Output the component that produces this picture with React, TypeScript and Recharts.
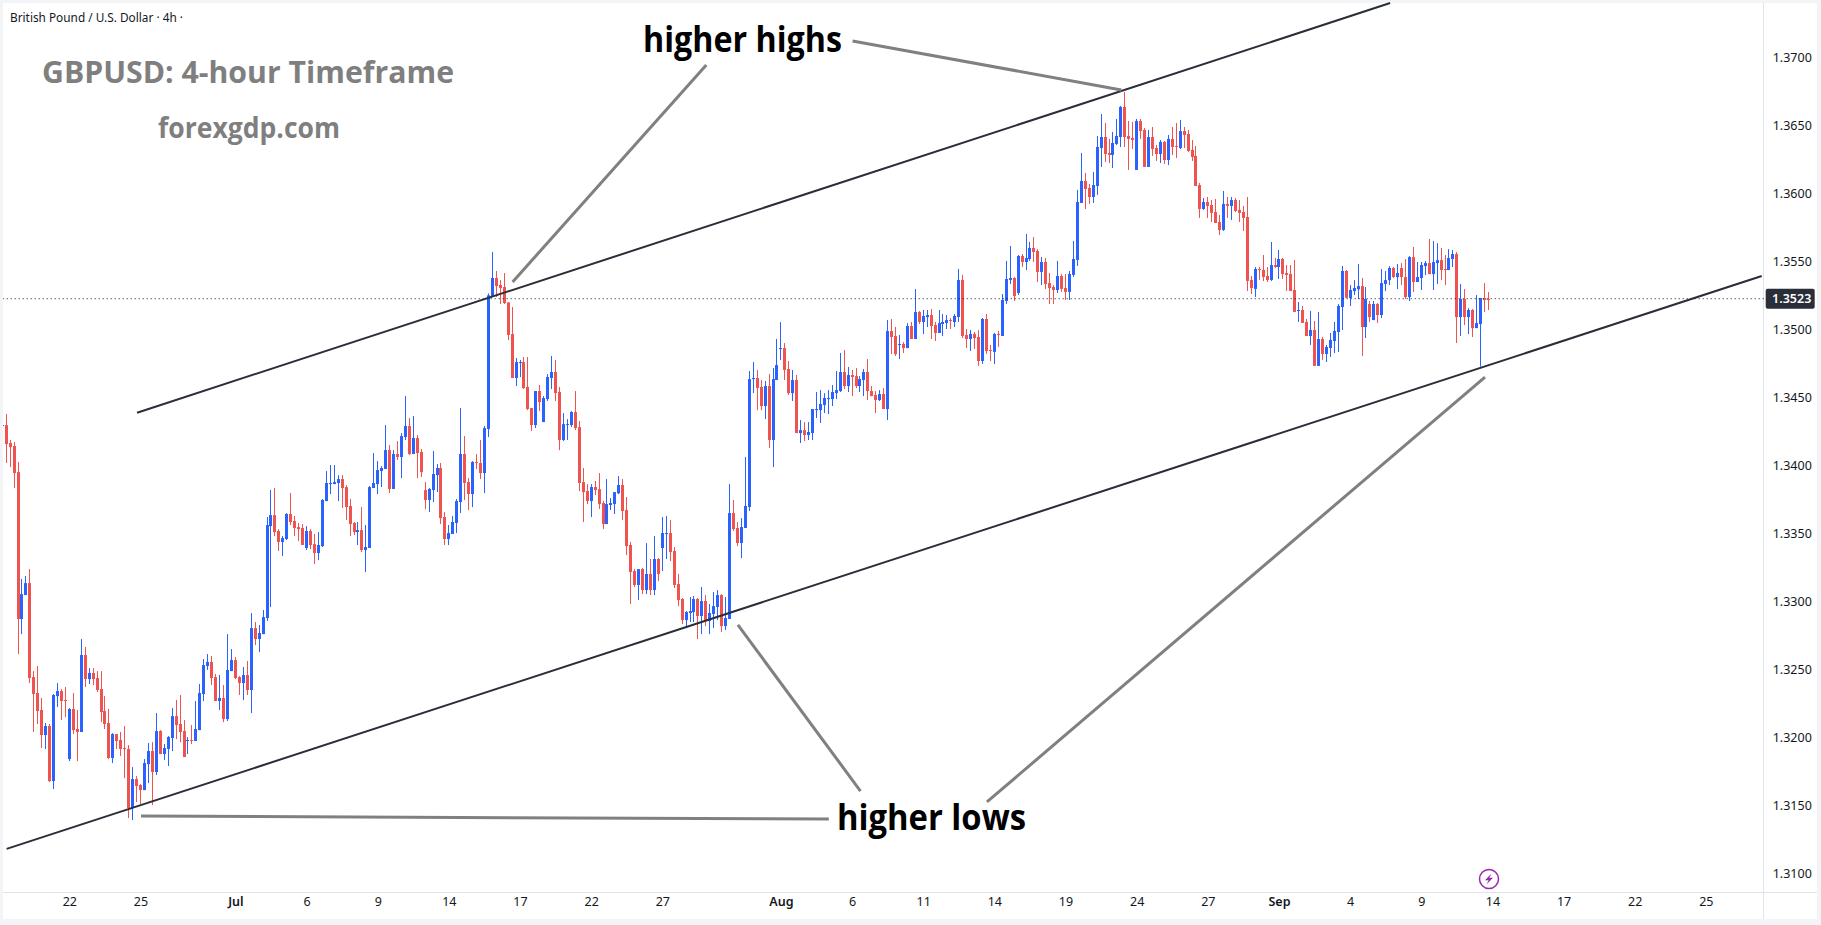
import React from "react";
import { ComposedChart, Bar, XAxis, YAxis, ReferenceLine } from "recharts";

type Candle = [number, number, number, number];

// open, high, low, close in 1/100000 of a dollar
const juneCandles: Candle[] = [
[134296,134326,134245,134301],[134301,134382,134022,134161],[134169,134191,133992,134139],[134147,134176,133838,133948],[133955,134029,132617,132875],
[132875,133169,132764,133058],[133051,133191,133051,133139],[133139,133242,132404,132441],[132448,132492,132044,132323],[132331,132529,132103,132198],
[132206,132294,131926,132022],[132022,132110,131919,132088],[132088,132103,131676,131683],[131683,132323,131625,132316],[132308,132404,132228,132345],
[132345,132360,132132,132272],[132279,132375,132154,132272],[131845,132220,131830,132213],[132213,132331,132029,132058],[132066,132206,131830,132044],
[132044,132728,132044,132610],[132610,132669,132375,132433],[132433,132514,132397,132478],[132478,132514,132389,132433],[132441,132492,132338,132353],
[132360,132492,132117,132191],[132198,132308,132066,132103],[132110,132213,131845,131853],[131853,132036,131816,132029],[132029,132029,131919,131978],
[131985,132044,131867,131919],[131926,132088,131705,131919],[131919,131948,131411,131485],[131485,131786,131397,131698],[131698,131720,131529,131647],
[131654,131661,131514,131617],[131617,131845,131617,131816],[131808,131963,131669,131904],[131904,131970,131507,131750],[131750,132183,131728,132051],
[132051,132058,131882,131882],[131882,131955,131838,131926],[131919,132014,131794,132007],[132000,132220,131904,132161],[132161,132279,131992,132095],
[132103,132316,131970,132044],[132051,132132,131860,131860],[131978,132007,131882,131985],[131985,132095,131956,131978],[131978,132272,131978,132066],
[132058,132397,132058,132331],[132323,132581,132272,132536],[132529,132617,132500,132559],[132559,132603,132389,132441],[132448,132470,132272,132272],
[132272,132463,132206,132294],[132294,132389,132117,132139],[132139,132764,132125,132500],[132492,132654,132492,132573],
];
const julyCandles: Candle[] = [
[132573,132595,132433,132441],[132448,132455,132316,132404],[132404,132522,132279,132463],[132463,132566,132316,132353],[132353,132919,132183,132808],
[132808,132853,132683,132728],[132728,132831,132632,132772],[132764,132941,132764,132889],[132882,133625,132860,133566],[133558,133823,132963,133639],
[133639,133838,133485,133514],[133522,133536,133375,133441],[133441,133485,133338,133470],[133463,133654,133456,133647],[133647,133801,133566,133588],
[133595,133632,133485,133544],[133551,133581,133448,133536],[133544,133573,133419,133419],[133397,133558,133382,133522],[133522,133536,133389,133419],
[133426,133500,133279,133360],[133360,133514,133308,133419],[133411,133757,133404,133750],[133742,133963,133742,133875],[133867,134007,133794,133875],
[133867,134007,133867,133882],[133875,133933,133742,133904],[133904,133933,133691,133838],[133845,133860,133603,133698],[133706,133757,133485,133573],
[133581,133588,133492,133514],[133514,133588,133419,133529],[133529,133698,133367,133382],[133382,133566,133220,133404],[133397,133853,133397,133845],
[133838,134095,133838,133875],[133867,134036,133794,133970],[133963,133999,133845,133985],[133978,134301,133978,134117],[134117,134154,133801,133831],
[133831,134117,133831,134088],[134088,134183,134044,134066],[134066,134242,133911,134220],[134213,134514,134191,134294],[134294,134353,134081,134088],
[134088,134367,134088,134206],[134206,134228,133911,134095],[134103,134125,133919,133955],[133823,133882,133683,133750],[133750,133838,133661,133831],
[133823,134110,133735,133941],[133933,134014,133808,133985],[133985,134022,133573,133617],[133625,133661,133419,133463],[133463,133566,133419,133507],
[133500,133632,133500,133588],[133581,133757,133507,133742],[133735,134426,133654,134088],[134088,134220,133750,133875],[133882,133911,133676,133794],
[133794,134036,133698,134029],[134029,134088,133978,134022],[134022,134191,133904,133948],[133948,134294,133801,134279],[134272,135269,134213,135255],
[135250,135573,135250,135382],[135382,135434,135242,135323],[135331,135367,135191,135309],[135316,135419,135191,135198],[135203,135203,134926,134963],
[134970,135169,134647,134647],[134647,134794,134588,134764],[134757,134779,134654,134764],[134764,134801,134566,134573],[134581,134801,134411,134419],
[134426,134426,134257,134301],[134301,134551,134279,134551],[134551,134595,134404,134470],[134323,134514,134323,134500],[134492,134676,134478,134654],
[134647,134809,134566,134691],[134691,134779,134478,134536],[134544,134581,134117,134191],[134191,134389,134183,134308],[134301,134345,134191,134308],
[134301,134404,134286,134397],[134397,134551,134264,134279],[134286,134331,133816,133875],[133882,133985,133588,133808],[133816,133867,133720,133742],
[133742,133867,133625,133845],[133845,133889,133786,133823],[133830,133948,133684,133720],[133728,133742,133536,133573],[133573,133904,133573,133720],
[133713,133764,133676,133728],[133720,133808,133647,133808],[133799,133926,133794,133860],[133860,133904,133603,133669],[133676,133772,133345,133411],
[133419,133441,132985,133220],[133228,133242,133110,133125],[133125,133242,133014,133242],[133242,133250,133058,133088],[133088,133433,133058,133206],
[133206,133316,133051,133088],[133088,133485,133051,133316],[133316,133323,133154,133206],[133397,133625,133228,133507],[133500,133632,133316,133507],
[133507,133603,133301,133367],[133375,133404,133103,133125],[133132,133206,132970,133014],[133022,133029,132838,132867],[132867,132933,132808,132926],
[132919,133036,132853,132933],[132926,133044,132853,133022],[133022,133029,132727,132897],[132897,133110,132764,133007],[133007,133051,132823,132860],
[132860,132985,132764,132919],[132912,133073,132808,132970],[132963,133088,132867,133051],[133051,133058,132779,132823],[132823,133036,132794,132882],
[132875,133867,132875,133654],[133654,133750,133522,133536],[133544,133588,133412,133434],[133434,133617,133323,133551],[133544,134066,133544,133706],
[133698,134698,133669,134639],[134639,134764,134536,134647],[134647,134706,134411,134573],[134581,134632,134411,134441],[134441,134625,134345,134588],
[134588,134676,134132,134191],[134191,134720,133992,134639],[134632,134934,134632,134742],
];
const augustCandles: Candle[] = [
[134860,135058,134779,134867],[134867,134904,134632,134706],[134713,134772,134522,134536],[134536,134706,134478,134632],[134632,134669,134242,134242],
[134242,134338,134169,134264],[134264,134323,134183,134228],[134228,134323,134191,134250],[134242,134419,134191,134419],[134411,134544,134353,134419],
[134411,134558,134316,134456],[134448,134536,134389,134500],[134492,134558,134382,134500],[134492,134595,134441,134544],[134536,134698,134492,134558],
[134551,134831,134544,134691],[134691,134853,134566,134588],[134588,134728,134544,134669],[134669,134706,134514,134654],[134661,134720,134573,134588],
[134588,134661,134544,134639],[134632,134713,134514,134691],[134691,134786,134485,134551],[134551,134588,134514,134514],[134522,134551,134389,134485],
[134485,134558,134478,134529],[134529,134573,134419,134419],[134419,135073,134338,134992],[134992,135081,134823,134948],[134956,135022,134809,134823],
[134889,134963,134786,134897],[134897,134911,134831,134867],[134867,135051,134867,135029],[135029,135059,134934,134934],[134934,135301,134934,135132],
[135132,135139,135044,135059],[135059,135147,134970,135103],[135095,135147,135022,135110],[135110,135154,134934,135029],[135037,135059,134919,134978],
[134978,135147,134978,135051],[135044,135117,134955,135059],[135051,135110,135007,135073],[135074,135088,135008,135066],[135059,135118,135022,135103],
[135096,135449,135059,135368],[135368,135405,134941,134956],[134963,135008,134868,134934],[134934,135000,134846,134971],[134971,134985,134861,134941],
[134949,135000,134736,134772],[134772,135088,134750,135081],[135081,135118,134824,134846],[134853,134890,134772,134846],[134839,134978,134750,134971],
[134971,134993,134875,134963],[134956,135265,134956,135221],[135213,135508,135191,135375],[135368,135618,135338,135382],[135382,135390,135213,135250],
[135272,135552,135258,135544],[135544,135559,135463,135500],[135500,135706,135441,135530],[135522,135647,135508,135603],[135603,135684,135500,135574],
[135581,135596,135353,135427],[135427,135537,135331,135500],[135500,135530,135302,135338],[135346,135419,135191,135309],[135316,135331,135191,135294],
[135294,135508,135272,135397],[135397,135412,135280,135302],[135309,135412,135221,135280],[135280,135434,135221,135412],[135405,135655,135390,135522],
[135515,136030,135471,135941],[135934,136302,135934,136096],[136096,136155,135890,136037],[136044,136074,135927,135978],[135978,136162,135934,136066],
[136059,136427,135993,136346],[136338,136588,136199,136419],[136419,136522,136235,136294],[136302,136405,136228,136287],[136287,136456,136191,136375],
[136368,136552,136360,136427],[136419,136647,136346,136640],[136640,136750,136346,136419],[136427,136537,136177,136405],[136412,136530,136331,136397],
[136177,136552,136177,136537],[136537,136552,136405,136463],[136471,136485,136199,136199],[136199,136471,136199,136419],[136419,136493,136280,136331],
[136338,136361,136243,136294],[136294,136397,136228,136383],[136383,136390,136221,136250],[136250,136434,136213,136405],[136405,136493,136287,136346],
[136353,136522,136265,136346],[136338,136544,136331,136463],[136463,136493,136338,136434],[136441,136471,136309,136316],[136324,136397,136243,136272],
[136280,136353,136059,136059],[136066,136081,135824,135890],[135890,135971,135883,135941],[135941,135978,135824,135912],[135919,135956,135794,135861],
[135868,135963,135787,135787],[135794,135846,135699,135736],[135736,136022,135728,135927],[135927,135978,135824,135912],[135912,135978,135809,135956],
[135956,135971,135868,135875],[135883,135956,135794,135861],[135868,135912,135728,135824],[135831,135978,135287,135361],[135368,135397,135265,135309],
[135302,135463,135243,135449],[135449,135463,135368,135441],[135441,135552,135360,135390],[135397,135463,135353,135368],[135368,135647,135360,135478],
[135478,135530,135456,135463],
];
const septemberCandles: Candle[] = [
[135463,135588,135375,135522],[135522,135530,135375,135412],[135419,135478,135287,135405],[135412,135478,135287,135287],[135294,135515,135133,135133],
[135140,135206,135059,135147],[135147,135177,135052,135052],[135059,135081,134956,134956],[134956,135140,134890,135000],[135000,135066,134736,134736],
[134736,135133,134736,134934],[134934,134949,134780,134824],[134824,134890,134765,134875],[134868,134978,134802,134927],[134919,135059,134831,134993],
[134985,135191,134839,135177],[135169,135471,135000,135434],[135434,135441,135236,135236],[135235,135331,135176,135294],[135286,135367,135257,135309],
[135299,135485,135228,135323],[135323,135382,134808,135022],[135022,135316,134941,135228],[135191,135213,135059,135095],[135073,135213,135073,135191],
[135191,135198,135051,135110],[135110,135448,135088,135345],[135338,135434,135286,135367],[135367,135470,135331,135456],[135456,135463,135382,135389],
[135389,135485,135301,135419],[135456,135492,135331,135389],[135389,135522,135228,135242],[135242,135544,135213,135536],[135536,135610,135279,135353],
[135353,135500,135353,135389],[135382,135500,135294,135478],[135470,135507,135404,135492],[135492,135669,135411,135411],[135411,135654,135294,135500],
[135492,135639,135338,135514],[135514,135603,135367,135441],[135448,135551,135331,135441],[135441,135595,135441,135529],[135522,135588,135463,135559],
[135559,135573,134904,135095],[135095,135338,134956,135228],[135228,135301,135036,135095],[135095,135161,134970,135147],[135147,135154,134948,135014],
[135014,135257,135014,135051],[135044,135235,134730,135235],[135235,135345,135132,135220],[135228,135279,135147,135220],
];

const slotCount = 446;
const priceTicks = [1.31, 1.315, 1.32, 1.325, 1.33, 1.335, 1.34, 1.345, 1.35, 1.355, 1.36, 1.365, 1.37];
const priceDomain: [number, number] = [1.308676, 1.374044];
const lastPrice = 1.3523;

const dateTickSlots = [17, 35, 59, 77, 95, 113, 131, 149, 167, 197, 215, 233, 251, 269, 287, 305, 323, 341, 359, 377, 395, 413, 431];
const dateTickLabels = ["22", "25", "Jul", "6", "9", "14", "17", "22", "27", "Aug", "6", "11", "14", "19", "24", "27", "Sep", "4", "9", "14", "17", "22", "25"];
const monthLabels = ["Jul", "Aug", "Sep"];

// [start slot, start price, end slot, end price]
const channelLines: number[][] = [
  [34, 1.34392, 351, 1.37404],
  [1, 1.31185, 445, 1.35397],
];
const pointerLines: number[][] = [
  [215, 1.37125, 283, 1.36765],
  [178, 1.36949, 129, 1.35353],
  [35, 1.31426, 209, 1.31404],
  [186, 1.32831, 217, 1.3161],
  [249, 1.3153, 375, 1.34654],
];

const allCandles = [...juneCandles, ...julyCandles, ...augustCandles, ...septemberCandles];
const rows = Array.from({ length: slotCount }, (_, slot) => {
  const c = allCandles[slot];
  if (!c) return { slot, span: null as null | number[] };
  const [open, high, low, close] = c.map((v) => v / 100000);
  return { slot, open, high, low, close, span: [low, high] };
});

const UP = "#2962ff";
const DOWN = "#ef5350";
const AXIS = "#e0e3eb";
const TEXT = "#131722";
const UI_FONT = "'Noto Sans', sans-serif";
const BOLD_FONT = "'Open Sans', 'Noto Sans', sans-serif";

function CandleShape(props: any) {
  const { x, y, width, height, payload } = props;
  if (!payload || payload.high === undefined) return null;
  const { open, high, low, close } = payload;
  const perUnit = high > low ? height / (high - low) : 0;
  const color = close >= open ? UP : DOWN;
  const topY = y + (high - Math.max(open, close)) * perUnit;
  const botY = y + (high - Math.min(open, close)) * perUnit;
  const cx = Math.floor(x + width / 2);
  return (
    <g>
      <rect x={cx} y={y} width={1} height={Math.max(height, 1)} fill={color} />
      <rect x={cx - 1} y={topY} width={3} height={Math.max(botY - topY, 1)} fill={color} />
    </g>
  );
}

function DateTick(props: any) {
  const { x, y, payload } = props;
  const label = dateTickLabels[dateTickSlots.indexOf(payload.value)];
  const isMonth = monthLabels.includes(label);
  return (
    <text x={x} y={y} dy={4.5} textAnchor="middle" fontFamily={UI_FONT} fontSize={12.5} fontWeight={isMonth ? 600 : 400} fill={TEXT}>
      {label}
    </text>
  );
}

function PriceTag(props: any) {
  const { viewBox } = props;
  const right = viewBox.x + viewBox.width;
  return (
    <g>
      <rect x={right + 2} y={viewBox.y - 10} width={49} height={20} rx={2} fill="#2a2e39" />
      <text x={right + 28} y={viewBox.y + 4.5} textAnchor="middle" fontFamily={UI_FONT} fontSize={12.5} fontWeight={600} fill="#ffffff">
        {lastPrice.toFixed(4)}
      </text>
    </g>
  );
}

export default function App() {
  return (
    <div style={{ position: "absolute", left: 0, top: 0, width: 1821, height: 925, background: "#f3f4f5", overflow: "hidden" }}>
      <div style={{ position: "absolute", left: 3, top: 3, width: 1814, height: 916, background: "#ffffff" }} />
      <div style={{ position: "absolute", left: 3, top: 892, width: 1814, height: 1, background: AXIS }} />
      <div style={{ position: "absolute", left: 1763, top: 3, width: 1, height: 916, background: AXIS }} />
      <div style={{ position: "absolute", left: 0, top: 0 }}>
        <ComposedChart width={1821} height={925} data={rows} margin={{ top: 3, right: 0, bottom: 0, left: 0.7 }} barSize={3}>
          <XAxis
            dataKey="slot"
            type="category"
            ticks={dateTickSlots}
            interval={0}
            height={33}
            axisLine={false}
            tickLine={false}
            tickSize={0}
            tickMargin={9}
            tick={<DateTick />}
          />
          <YAxis
            orientation="right"
            width={57.3}
            domain={priceDomain}
            ticks={priceTicks}
            allowDataOverflow
            axisLine={false}
            tickLine={false}
            tickSize={0}
            tickMargin={9}
            tickFormatter={(v: number) => v.toFixed(4)}
            tick={{ fontFamily: UI_FONT, fontSize: 12.5, fill: TEXT }}
          />
          <Bar dataKey="span" shape={<CandleShape />} isAnimationActive={false} />
          <ReferenceLine y={lastPrice} stroke={TEXT} strokeWidth={1} strokeDasharray="1 3" label={<PriceTag />} />
          {channelLines.map((l, i) => (
            <ReferenceLine
              key={"c" + i}
              ifOverflow="visible"
              stroke="#2a2e39"
              strokeWidth={2}
              segment={[{ x: l[0], y: l[1] }, { x: l[2], y: l[3] }]}
            />
          ))}
          {pointerLines.map((l, i) => (
            <ReferenceLine
              key={"p" + i}
              ifOverflow="visible"
              stroke="#808080"
              strokeWidth={3}
              segment={[{ x: l[0], y: l[1] }, { x: l[2], y: l[3] }]}
            />
          ))}
        </ComposedChart>
      </div>
      <div style={{ position: "absolute", left: 0, top: 0, width: 3, height: 925, background: "#f3f4f5" }} />
      <svg width={1821} height={925} style={{ position: "absolute", left: 0, top: 0, pointerEvents: "none" }}>
        <text x={10} y={22} fontFamily={UI_FONT} fontSize={13} fill={TEXT} textLength={173} lengthAdjust="spacingAndGlyphs">
          British Pound / U.S. Dollar · 4h ·
        </text>
        <text x={42} y={83} fontFamily={BOLD_FONT} fontWeight={700} fontSize={31} fill="#7f7f7f" textLength={412} lengthAdjust="spacingAndGlyphs">
          GBPUSD: 4-hour Timeframe
        </text>
        <text x={158} y={138} fontFamily={BOLD_FONT} fontWeight={700} fontSize={28} fill="#7f7f7f" textLength={182} lengthAdjust="spacingAndGlyphs">
          forexgdp.com
        </text>
        <text x={643} y={52} fontFamily={BOLD_FONT} fontWeight={700} fontSize={35} fill="#000000" textLength={199} lengthAdjust="spacingAndGlyphs">
          higher highs
        </text>
        <text x={837} y={830} fontFamily={BOLD_FONT} fontWeight={700} fontSize={35} fill="#000000" textLength={189} lengthAdjust="spacingAndGlyphs">
          higher lows
        </text>
        <circle cx={1489} cy={879} r={9.5} fill="#ffffff" stroke="#9c27b0" strokeWidth={1.5} />
        <path d="M1491.5 873.5 L1485 880.2 L1488.6 880.2 L1486.5 884.5 L1493 877.8 L1489.4 877.8 Z" fill="#9c27b0" />
      </svg>
    </div>
  );
}
